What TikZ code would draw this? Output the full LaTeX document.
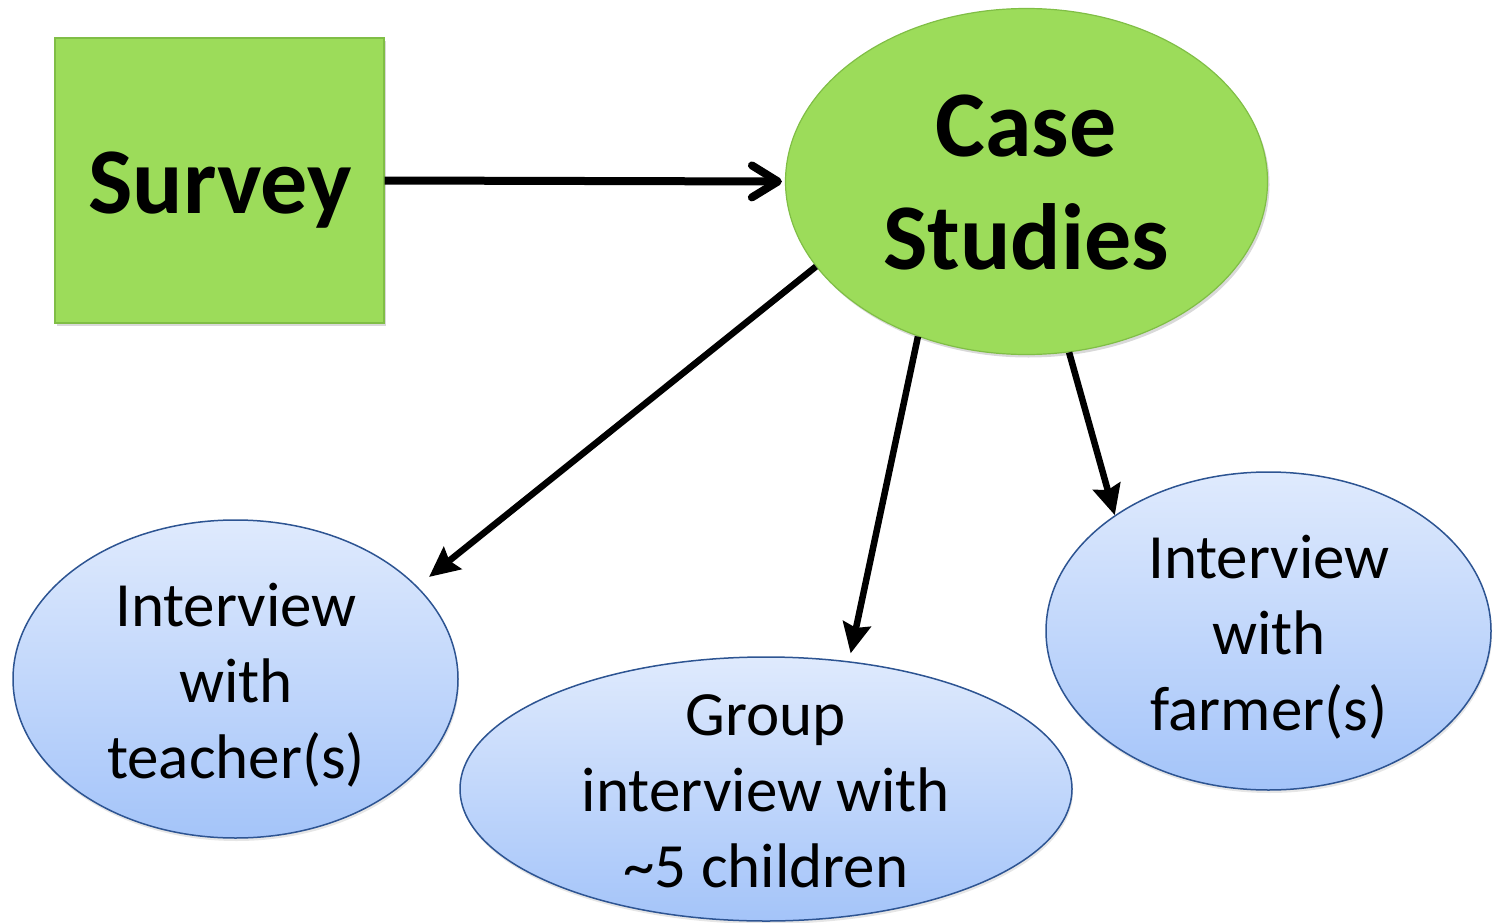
\documentclass[tikz,border=0pt]{standalone}
\usepackage{fontspec}
\setmainfont{Carlito}
\usetikzlibrary{shapes.geometric,arrows.meta,shadows}
\definecolor{grfill}{RGB}{156,220,90}
\definecolor{grdraw}{RGB}{128,190,70}
\definecolor{bltop}{RGB}{223,234,253}
\definecolor{blbot}{RGB}{164,196,249}
\definecolor{bldraw}{RGB}{45,84,146}
\tikzset{
  greenbox/.style={rectangle, fill=grfill, draw=grdraw, line width=1.2pt, inner sep=0pt,
    drop shadow={opacity=0.3, shadow xshift=2pt, shadow yshift=-3pt}},
  greenell/.style={ellipse, fill=grfill, draw=grdraw, line width=1.2pt, inner sep=0pt,
    drop shadow={opacity=0.3, shadow xshift=2pt, shadow yshift=-3pt}},
  blueell/.style={ellipse, top color=bltop, bottom color=blbot, draw=bldraw, line width=1.5pt, inner sep=0pt,
    drop shadow={opacity=0.2, shadow xshift=1pt, shadow yshift=-3pt}},
  bigtxt/.style={inner sep=0pt, align=center, font=\fontsize{94}{113}\selectfont\bfseries},
  smalltxt/.style={inner sep=0pt, align=center, font=\fontsize{63}{76}\selectfont},
  chevarrow/.style={line width=8pt, -{Straight Barb[length=26pt,width=32pt,line cap=round,line join=round]}},
  stealtharrow/.style={line width=6.5pt, -{Stealth[length=30pt,width=28pt,inset=4pt]}}
}
\begin{document}
\begin{tikzpicture}[x=1pt,y=-1pt]
\useasboundingbox (0,0) rectangle (1493,923);
% shapes
\node[greenbox, minimum width=329pt, minimum height=285pt] (survey) at (219.5,180.5) {};
\node[greenell, minimum width=482pt, minimum height=346pt] (case) at (1026.5,181.5) {};
\node[blueell, minimum width=445pt, minimum height=318pt] (teacher) at (235.5,679) {};
\node[blueell, minimum width=612pt, minimum height=264pt] (group) at (766,789) {};
\node[blueell, minimum width=445pt, minimum height=318pt] (farmer) at (1268.5,631) {};
% texts
\node[bigtxt, anchor=base] (surveytxt) at (220,213) {Survey};
\node[bigtxt] (casetxt) at (1026,183) {Case\\Studies};
\node[smalltxt] (teachertxt) at (236,685) {Interview\\with\\teacher(s)};
\node[smalltxt] (grouptxt) at (766,791) {Group\\interview with\\\textasciitilde5 children};
\node[smalltxt] (farmertxt) at (1269,637) {Interview\\with\\farmer(s)};
% connectors
\draw[chevarrow, shorten >=3pt] (survey.east) -- (case.west);
\draw[stealtharrow, shorten >=15pt] (case.202.6) -- (teacher.27.7);
\draw[stealtharrow, shorten >=8pt] (case.235.6) -- (group.57);
\draw[stealtharrow] (case.284.3) -- (farmer.143.9);
\end{tikzpicture}
\end{document}
